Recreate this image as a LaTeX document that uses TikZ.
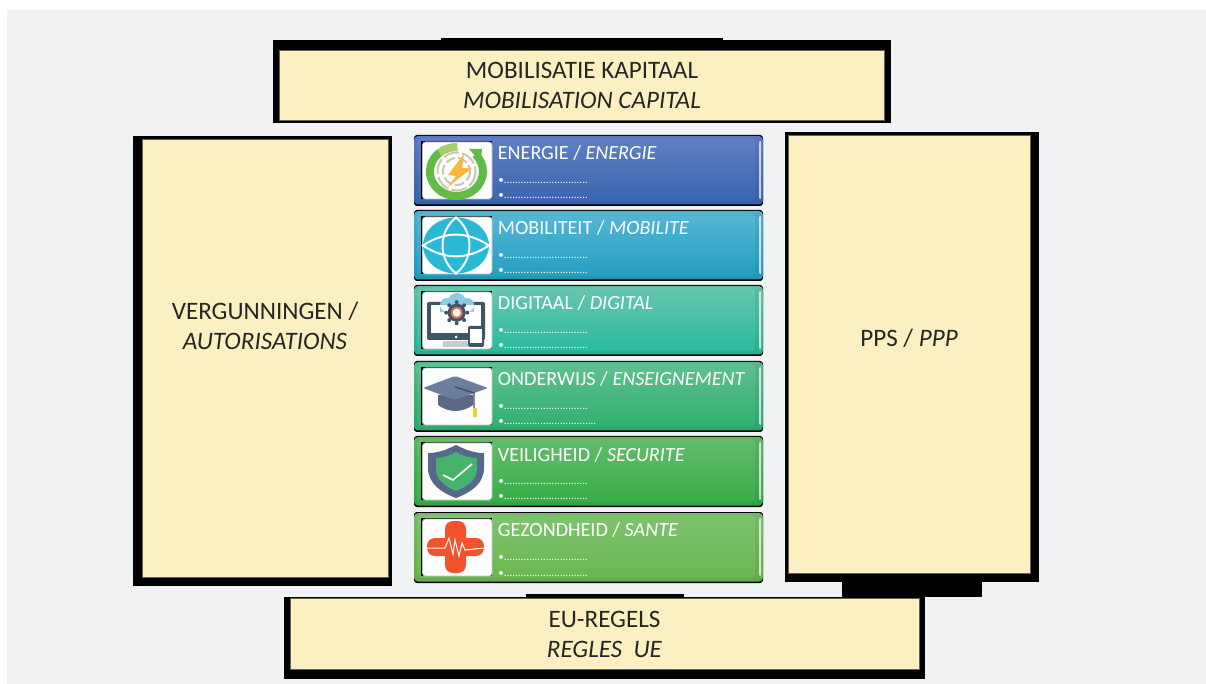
\documentclass[tikz,border=0pt]{standalone}
\usepackage{fontspec}
\setmainfont{Carlito}
\definecolor{pagegray}{HTML}{F1F2F4}
\definecolor{capcream}{HTML}{FCEFC2}
\definecolor{capedge}{HTML}{6B6048}
\definecolor{captext}{HTML}{262626}
\definecolor{enerA}{HTML}{5F7FC2}
\definecolor{enerB}{HTML}{3A66B0}
\definecolor{mobiA}{HTML}{55B6D4}
\definecolor{mobiB}{HTML}{259FC2}
\definecolor{digiA}{HTML}{66C6AE}
\definecolor{digiB}{HTML}{2ABB9B}
\definecolor{ondeA}{HTML}{60C08F}
\definecolor{ondeB}{HTML}{2FB070}
\definecolor{veilA}{HTML}{64BC6C}
\definecolor{veilB}{HTML}{36AE47}
\definecolor{gezoA}{HTML}{7EC270}
\definecolor{gezoB}{HTML}{69B850}
\definecolor{slate}{HTML}{3F5566}
\definecolor{capblue}{HTML}{6D7D9C}
\definecolor{capdark}{HTML}{5A6785}
\definecolor{capcord}{HTML}{4A4A6A}
\definecolor{capgold}{HTML}{FACC3C}
\definecolor{shieldblue}{HTML}{56688B}
\definecolor{shieldgreen}{HTML}{45B36B}
\definecolor{ringgreen}{HTML}{62BB46}
\definecolor{ringlight}{HTML}{A5CF6B}
\definecolor{ringgray}{HTML}{C9C9B0}
\definecolor{boltyellow}{HTML}{FAB63C}
\definecolor{globeblue}{HTML}{29B9D6}
\definecolor{cloudblue}{HTML}{8CCBE8}
\definecolor{gearorange}{HTML}{E8704A}
\definecolor{standgray}{HTML}{C4CCD4}
\definecolor{crossred}{HTML}{F4522D}
\tikzset{
  capbox/.style={draw=capedge, line width=0.5pt, fill=capcream},
  captitle/.style={inner sep=0pt, text=captext, align=center, font=\fontsize{12.55}{15}\selectfont},
  rowtitle/.style={anchor=base west, inner sep=0pt, text=white, font=\fontsize{10.05}{12}\selectfont},
  rowdots/.style={anchor=base west, inner sep=0pt, text=white, font=\fontsize{5.55}{6}\selectfont},
}
\newcommand{\puntjes}{•..............................}
\begin{document}
\begin{tikzpicture}[x=0.5pt, y=-0.5pt]
  \useasboundingbox (0,0) rectangle (1206,684);
  \fill[white] (0,0) rectangle (1206,684);
  \fill[pagegray] (7,10) rectangle (1206,684);

  % black frames behind the cream boxes
  \fill (273,40) rectangle (891,123);
  \fill (441,38) rectangle (723,41);
  \fill (133,136) rectangle (392,586);
  \fill (785,132) rectangle (1039,582);
  \fill (842,581) rectangle (982,597);
  \fill (284,597) rectangle (925,679);
  \fill (526,594) rectangle (684,598);

  \draw[capbox] (279.5,50.5) rectangle (884.5,120.5);
  \draw[capbox] (142,140) rectangle (388,577);
  \draw[capbox] (788,136) rectangle (1030,573);
  \draw[capbox] (290,598) rectangle (919,669);

  \node[captitle] (kapitaal) at (582,85) {MOBILISATIE KAPITAAL\\\textit{MOBILISATION CAPITAL}};
  \node[captitle] (vergunningen) at (265,326) {VERGUNNINGEN /\\\textit{AUTORISATIONS}};
  \node[captitle] (pps) at (909,338) {PPS / \textit{PPP}};
  \node[captitle] (regels) at (604.5,634) {EU-REGELS\\\textit{REGLES\ \ UE}};

  \foreach \y/\nm/\ca/\cb/\dut/\fra/\extra in {
      135/ener/enerA/enerB/ENERGIE/ENERGIE/{},
      210/mobi/mobiA/mobiB/MOBILITEIT/MOBILITE/{},
      285/digi/digiA/digiB/DIGITAAL/DIGITAL/{},
      361/onde/ondeA/ondeB/ONDERWIJS/ENSEIGNEMENT/{...},
      436/veil/veilA/veilB/VEILIGHEID/SECURITE/{},
      512/gezo/gezoA/gezoB/GEZONDHEID/SANTE/{}} {
    \fill[rounded corners=1.5pt] (414,\y) rectangle (763,\y+71);
    \shade[rounded corners=2pt, top color=\ca!95!black, bottom color=\cb!93!black]
      (414,\y+1) rectangle (763,\y+69.5);
    \shade[rounded corners=2pt, top color=\ca, bottom color=\cb] (417,\y+3) rectangle (755,\y+66);
    \fill[white, opacity=0.7, rounded corners=0.5pt] (759,\y+6) rectangle (761,\y+64);
    \fill (421,\y+6) rectangle (492,\y+64);
    \fill[white, draw=black!25, line width=0.4pt, rounded corners=1.5pt] (422.5,\y+7) rectangle (492,\y+64);
    \node[rowtitle] (\nm-title) at (497.5,\y+25) {\dut{} / \textit{\fra}};
    \node[rowdots] (\nm-een) at (498,\y+48.5) {\puntjes};
    \node[rowdots] (\nm-twee) at (498,\y+64) {\puntjes\extra};
  }

  % energie
  \begin{scope}[shift={(0,135)}]
    \draw[ringgray, line width=1pt, dash pattern=on 8pt off 1.5pt] (456.5,36.5) circle [radius=19];
    \draw[ringgray, line width=1pt, dash pattern=on 5pt off 1.5pt] (456.5,36.5) circle [radius=13.5];
    \draw[ringgreen, line width=4pt] (456.5,36.5) ++(-44:26.5 and 24.5)
      arc [start angle=-44, end angle=232, x radius=26.5, y radius=24.5];
    \draw[ringlight, line width=4pt] (456.5,36.5) ++(230:26.5 and 24.5)
      arc [start angle=230, end angle=272, x radius=26.5, y radius=24.5];
    \fill[ringgreen] (469,14) -- (482,14) -- (481,27) -- cycle;
    \fill[boltyellow] (464,19) -- (448,40) -- (456,41) -- (448,52) -- (472,33) -- (462,33) -- cycle;
  \end{scope}

  % mobiliteit
  \begin{scope}[shift={(0,210)}]
    \fill[globeblue] (456,35.5) circle [x radius=33, y radius=28];
    \draw[white, line width=1pt] (423,35.5) .. controls (445,21) and (467,21) .. (489,35.5)
      .. controls (467,50) and (445,50) .. cycle;
    \draw[white, line width=1pt] (456,7.5) .. controls (438,22) and (438,49) .. (456,63.5)
      .. controls (474,49) and (474,22) .. cycle;
  \end{scope}

  % digitaal
  \begin{scope}[shift={(0,285)}]
    \fill[slate, rounded corners=1pt] (427,17) rectangle (485,55);
    \fill[white] (431,20) rectangle (481,48);
    \fill[standgray] (443,56) rectangle (468,62);
    \fill[white] (456,52) circle [radius=1.5];
    \fill[cloudblue] (447,20) circle [radius=7] (457,17) circle [radius=9]
      (467,20) circle [radius=7] (440,20) rectangle (474,27);
    \foreach \a in {0,45,...,315}
      \fill[slate] (456.7,27.7) ++(\a:10.5) circle [radius=2];
    \fill[slate] (456.7,27.7) circle [radius=9];
    \fill[gearorange] (456.7,27.7) circle [radius=6];
    \fill[white] (456.7,27.7) circle [radius=4];
    \fill[slate, rounded corners=1pt] (468,41) rectangle (484,62);
    \fill[white] (470,44) rectangle (482,58);
  \end{scope}

  % onderwijs
  \begin{scope}[shift={(0,361)}]
    \fill[capdark] (438,34) -- (473,34) -- (473,44) .. controls (462,52) and (449,52) .. (438,44) -- cycle;
    \fill[capblue, rounded corners=1pt] (423,27) -- (455,15) -- (488,27) -- (455,39) -- cycle;
    \draw[capcord, line width=0.7pt] (455,26) -- (474,32) -- (474,47);
    \fill[capgold] (472.5,47) rectangle (476.5,56);
  \end{scope}

  % veiligheid
  \begin{scope}[shift={(0,436)}]
    \fill[shieldblue] (456,9) .. controls (446,14) and (438,17) .. (428,17) -- (428,32)
      .. controls (428,48) and (442,57) .. (456,62) .. controls (470,57) and (484,48) .. (484,32) -- (484,17)
      .. controls (474,17) and (466,14) .. cycle;
    \fill[shieldgreen] (456,16) .. controls (449,20) and (443,22) .. (436,22) -- (436,33)
      .. controls (436,44) and (446,51) .. (456,55) .. controls (466,51) and (477,44) .. (477,33) -- (477,22)
      .. controls (469,22) and (463,20) .. cycle;
    \draw[white, line width=0.8pt] (443,39) -- (453,44) -- (472,28);
  \end{scope}

  % gezondheid
  \begin{scope}[shift={(0,512)}]
    \fill[crossred, rounded corners=4pt] (445,9) rectangle (466,61);
    \fill[crossred, rounded corners=4pt] (427,26) rectangle (484,44);
    \draw[white, line width=0.5pt] (427,36) -- (445,36) -- (449,26) -- (453,42) -- (455,28) -- (459,44) -- (462,31) -- (465,38) -- (484,36);
  \end{scope}
\end{tikzpicture}
\end{document}
